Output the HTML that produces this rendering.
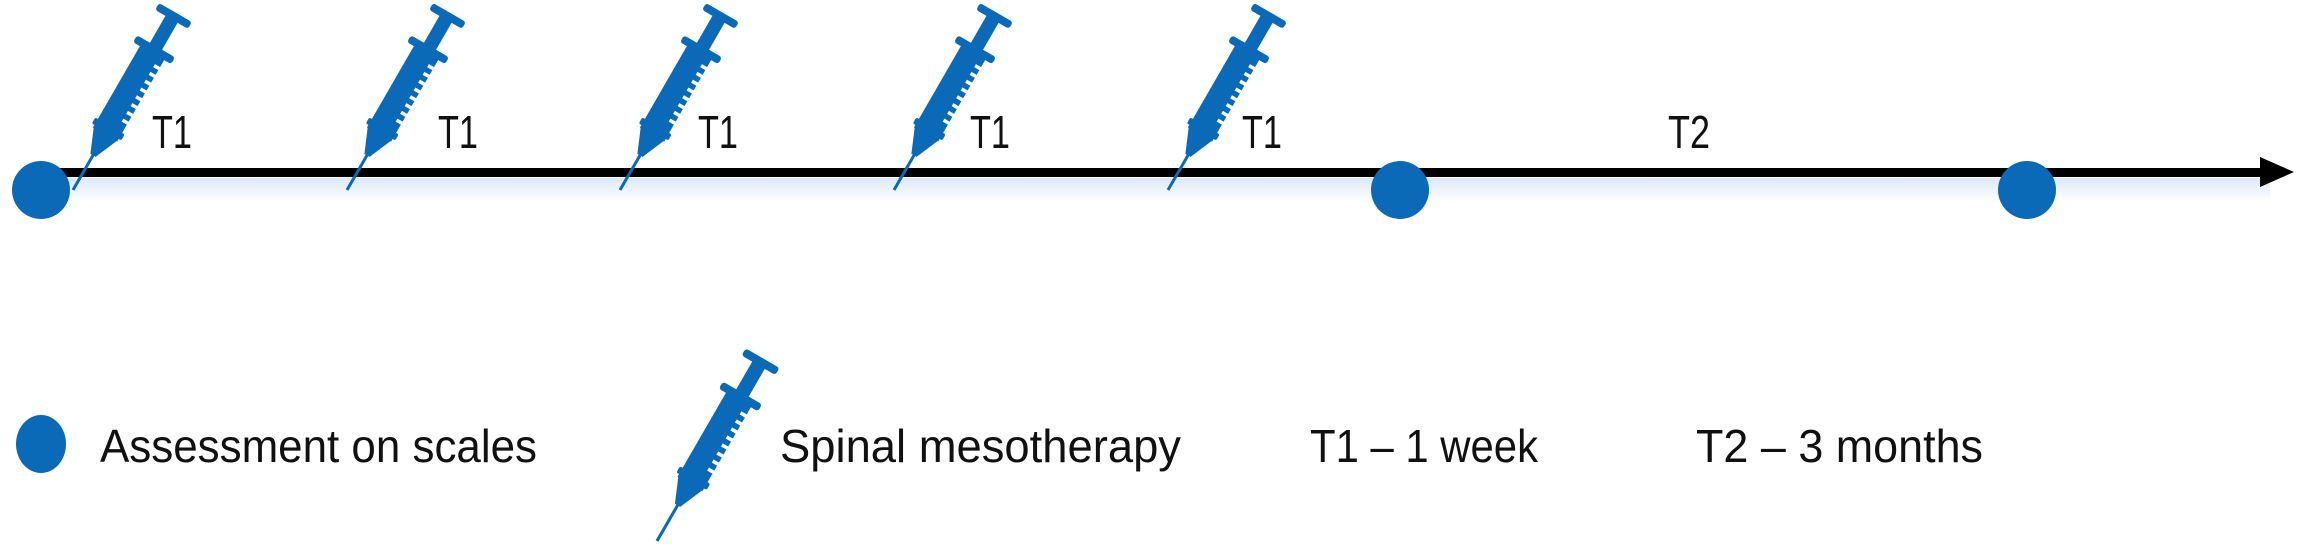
<!DOCTYPE html>
<html><head><meta charset="utf-8"><style>
html,body{margin:0;padding:0;background:#fff;}
svg{display:block;}
text{font-family:"Liberation Sans",sans-serif;font-size:46px;fill:#111;}
</style></head><body>
<svg width="2307" height="558" viewBox="0 0 2307 558" xmlns="http://www.w3.org/2000/svg">
<defs>
<linearGradient id="glow" x1="0" y1="0" x2="0" y2="1">
<stop offset="0" stop-color="#dce8f6"/><stop offset="1" stop-color="#ffffff"/>
</linearGradient>
<g id="syr">
<rect x="-1.5" y="-45" width="3" height="45" fill="#0a6ab8"/>
<polygon points="-3,-40 3,-40 14,-66 -14,-66" fill="#0a6ab8"/>
<rect x="-14" y="-160" width="28" height="96" fill="#0a6ab8"/>
<rect x="-17" y="-74" width="34" height="7" rx="2" fill="#0a6ab8"/>
<g fill="#fff">
<rect x="8" y="-150" width="7" height="3.5"/><rect x="8" y="-141" width="7" height="3.5"/>
<rect x="8" y="-132" width="7" height="3.5"/><rect x="8" y="-123" width="7" height="3.5"/>
<rect x="8" y="-114" width="7" height="3.5"/><rect x="8" y="-105" width="7" height="3.5"/>
<rect x="8" y="-96" width="7" height="3.5"/><rect x="8" y="-87" width="7" height="3.5"/>
</g>
<rect x="-22" y="-166" width="44" height="8" rx="3" fill="#0a6ab8"/>
<rect x="-7" y="-198" width="14" height="34" fill="#0a6ab8"/>
<rect x="-19" y="-205" width="38" height="8" rx="3" fill="#0a6ab8"/>
</g>
</defs>
<rect x="30" y="178" width="2240" height="24" fill="url(#glow)"/>
<rect x="40" y="168" width="2225" height="9" fill="#000"/>
<polygon points="2260,157 2294,172 2260,187" fill="#000"/>
<circle cx="41" cy="190" r="29" fill="#0a6ab8"/>
<circle cx="1400" cy="190" r="29" fill="#0a6ab8"/>
<circle cx="2027" cy="190" r="29" fill="#0a6ab8"/>
<use href="#syr" transform="translate(73,190) rotate(30)"/>
<use href="#syr" transform="translate(347,190) rotate(30)"/>
<use href="#syr" transform="translate(620,190) rotate(30)"/>
<use href="#syr" transform="translate(894,190) rotate(30)"/>
<use href="#syr" transform="translate(1168,190) rotate(30)"/>
<g>
<text x="152" y="148" textLength="40" lengthAdjust="spacingAndGlyphs">T1</text>
<text x="438" y="148" textLength="40" lengthAdjust="spacingAndGlyphs">T1</text>
<text x="698" y="148" textLength="40" lengthAdjust="spacingAndGlyphs">T1</text>
<text x="970" y="148" textLength="40" lengthAdjust="spacingAndGlyphs">T1</text>
<text x="1242" y="148" textLength="40" lengthAdjust="spacingAndGlyphs">T1</text>
<text x="1668" y="148" textLength="42" lengthAdjust="spacingAndGlyphs">T2</text>
</g>
<ellipse cx="41" cy="444" rx="25" ry="29" fill="#0a6ab8"/>
<use href="#syr" transform="translate(657,541) rotate(30) scale(1.03)"/>
<text x="100" y="462" textLength="437" lengthAdjust="spacingAndGlyphs">Assessment on scales</text>
<text x="780" y="462" textLength="401" lengthAdjust="spacingAndGlyphs">Spinal mesotherapy</text>
<text x="1310" y="462" textLength="228" lengthAdjust="spacingAndGlyphs">T1 – 1 week</text>
<text x="1696" y="462" textLength="287" lengthAdjust="spacingAndGlyphs">T2 – 3 months</text>
</svg>
</body></html>
